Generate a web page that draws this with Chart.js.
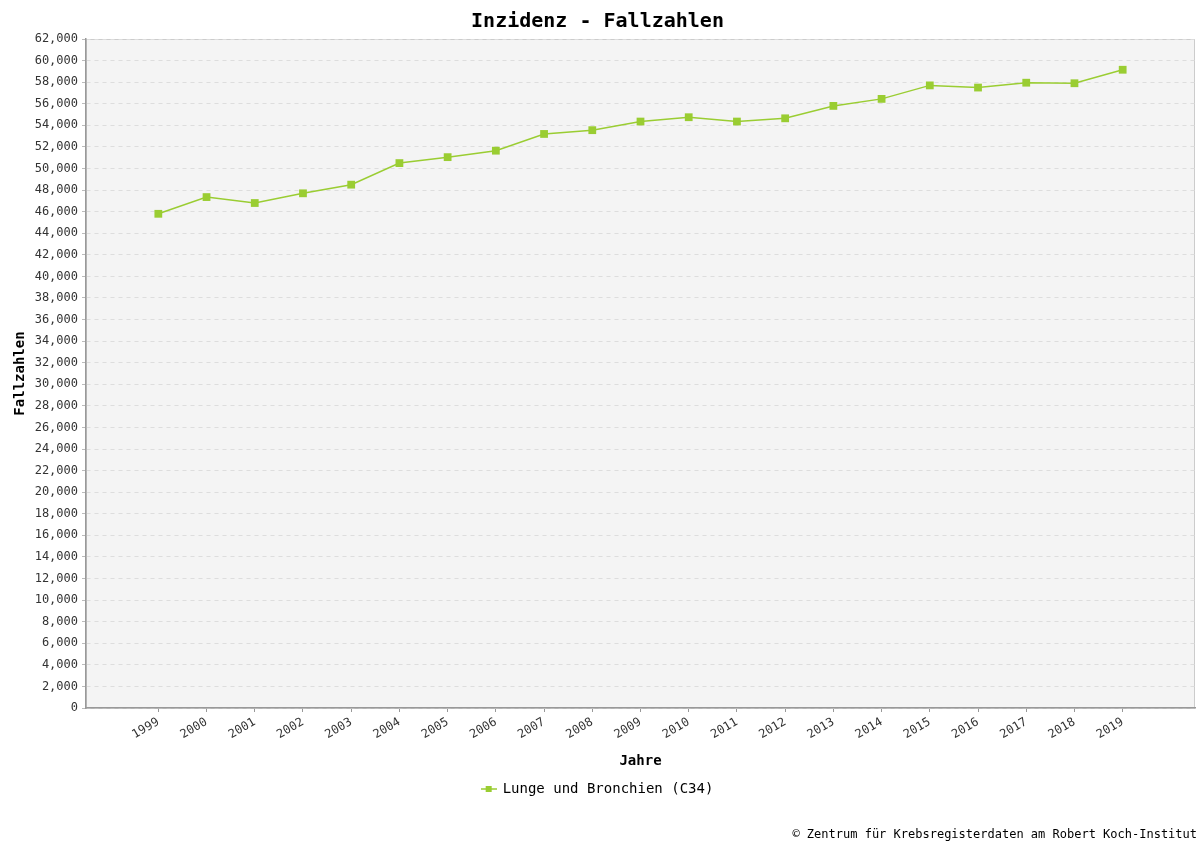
<!DOCTYPE html>
<html>
<head>
<meta charset="utf-8">
<title>Inzidenz - Fallzahlen</title>
<script src="https://cdn.jsdelivr.net/npm/chart.js@4/dist/chart.umd.min.js"></script>
<style>
    html, body { margin: 0; padding: 0; background: #ffffff; }
    #chart { display: block; }
</style>
</head>
<body>
<canvas id="chart" width="1196" height="841"></canvas>
<script>
    // values
    const years = [1999, 2000, 2001, 2002, 2003, 2004, 2005, 2006, 2007, 2008,
        2009, 2010, 2011, 2012, 2013, 2014, 2015, 2016, 2017, 2018, 2019];
    const cases = [45800, 47350, 46800, 47700, 48500, 50500, 51050, 51650, 53200, 53550,
        54350, 54750, 54350, 54650, 55800, 56450, 57700, 57500, 57950, 57900, 59150];
    const seriesLabel = 'Lunge und Bronchien (C34)';
    const footerText = '\u00a9 Zentrum f\u00fcr Krebsregisterdaten am Robert Koch-Institut';

    const mono = 'DejaVu Sans Mono';
    const green = '#9acd32';

    // small legend symbol: line with a square on it
    function legendSymbol() {
        const c = document.createElement('canvas');
        c.width = 16;
        c.height = 8;
        const g = c.getContext('2d');
        g.strokeStyle = green;
        g.lineWidth = 1.5;
        g.beginPath();
        g.moveTo(0, 4);
        g.lineTo(16, 4);
        g.stroke();
        g.fillStyle = green;
        g.fillRect(5, 1, 6, 6);
        return c;
    }

    const plotBackground = {
        id: 'plotBackground',
        beforeDraw(chart) {
            const { ctx, chartArea: a } = chart;
            ctx.save();
            ctx.fillStyle = '#f4f4f4';
            ctx.fillRect(a.left, a.top, a.right - a.left, a.bottom - a.top);
            ctx.strokeStyle = '#cccccc';
            ctx.lineWidth = 1;
            ctx.strokeRect(a.left + 0.5, a.top + 0.5, a.right - a.left - 1, a.bottom - a.top);
            ctx.restore();
        }
    };

    const footer = {
        id: 'footer',
        afterDraw(chart) {
            const ctx = chart.ctx;
            ctx.save();
            ctx.font = '12px "' + mono + '"';
            ctx.fillStyle = '#000000';
            ctx.textAlign = 'right';
            ctx.textBaseline = 'middle';
            ctx.fillText(footerText, chart.width + 1, 835);
            ctx.restore();
        }
    };

    const ctx = document.getElementById('chart').getContext('2d');
    new Chart(ctx, {
        type: 'line',
        data: {
            datasets: [{
                label: seriesLabel,
                data: years.map((y, i) => ({ x: y, y: cases[i] })),
                borderColor: green,
                backgroundColor: green,
                borderWidth: 1.5,
                pointStyle: 'rect',
                pointRadius: 5.5,
                pointHoverRadius: 5.5,
                pointBorderWidth: 0,
                tension: 0
            }]
        },
        options: {
            responsive: false,
            animation: false,
            layout: { autoPadding: false, padding: { left: 0, right: 1, top: 0, bottom: 35 } },
            scales: {
                x: {
                    type: 'linear',
                    min: 1997.5,
                    max: 2020.5,
                    afterBuildTicks: (scale) => {
                        scale.ticks = years.map(v => ({ value: v }));
                    },
                    afterFit: (scale) => {
                        scale.height = 66;
                        scale.paddingLeft = 0;
                        scale.paddingRight = 0;
                    },
                    ticks: {
                        minRotation: 30,
                        maxRotation: 30,
                        padding: 3,
                        color: '#333333',
                        font: { family: mono, size: 12 },
                        callback: (v) => String(v)
                    },
                    grid: {
                        drawOnChartArea: false,
                        tickLength: 4,
                        color: '#999999'
                    },
                    border: { color: '#999999', width: 1.5 },
                    title: {
                        display: true,
                        text: 'Jahre',
                        color: '#000000',
                        font: { family: mono, size: 14, weight: 'bold' },
                        padding: { top: 4, bottom: 4 }
                    }
                },
                y: {
                    min: 0,
                    max: 62000,
                    afterFit: (scale) => { scale.width = 86; },
                    ticks: {
                        stepSize: 2000,
                        padding: 4,
                        color: '#333333',
                        font: { family: mono, size: 12 },
                        callback: (v) => v.toLocaleString('en-US')
                    },
                    grid: {
                        color: '#dddddd',
                        tickLength: 4,
                        tickColor: '#bbbbbb'
                    },
                    border: { color: '#999999', width: 1.5, dash: [4, 4] },
                    title: {
                        display: true,
                        text: 'Fallzahlen',
                        color: '#000000',
                        font: { family: mono, size: 14, weight: 'bold' },
                        padding: { top: 12, bottom: 4 }
                    }
                }
            },
            plugins: {
                title: {
                    display: true,
                    text: 'Inzidenz - Fallzahlen',
                    color: '#000000',
                    font: { family: mono, size: 20, weight: 'bold' },
                    padding: { top: 10, bottom: 5 }
                },
                legend: {
                    position: 'bottom',
                    labels: {
                        usePointStyle: true,
                        pointStyle: legendSymbol(),
                        color: '#000000',
                        font: { family: mono, size: 14 },
                        padding: 8
                    }
                },
                tooltip: { enabled: false }
            }
        },
        plugins: [plotBackground, footer]
    });
</script>
</body>
</html>
